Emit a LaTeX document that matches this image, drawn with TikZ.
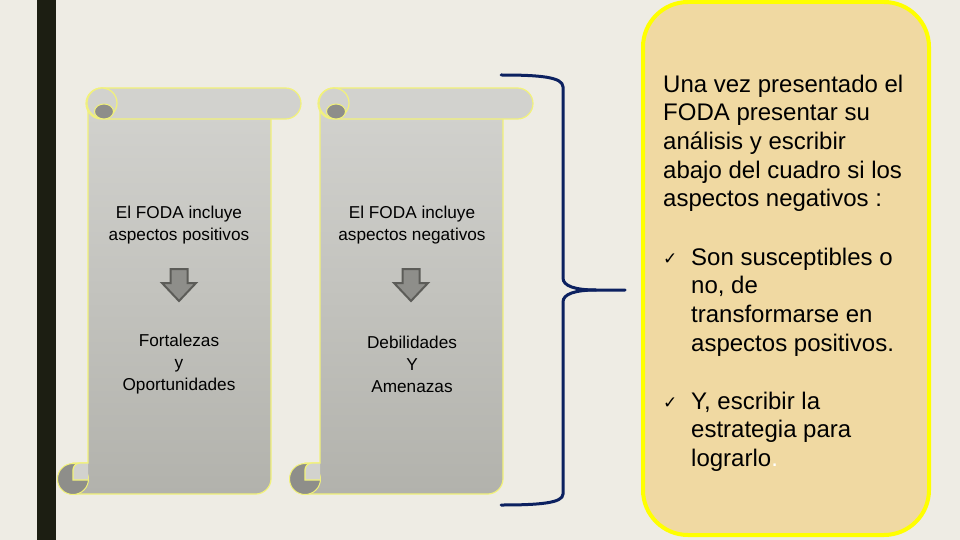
\documentclass[tikz,border=0pt]{standalone}
\usepackage{fontspec}
\setmainfont{Liberation Sans}
\newfontfamily\checkfont{DejaVu Sans}
\definecolor{slidebg}{HTML}{EEECE4}
\definecolor{slidebar}{HTML}{1C1E12}
\definecolor{rolltop}{HTML}{D2D2CE}
\definecolor{rollbottom}{HTML}{B2B2AC}
\definecolor{rolldark}{HTML}{8E8E8A}
\definecolor{rollrim}{HTML}{F2F27A}
\definecolor{arrowfill}{HTML}{8E8E8A}
\definecolor{arrowrim}{HTML}{5C5C58}
\definecolor{bracenavy}{HTML}{0C2160}
\definecolor{notefill}{HTML}{F0D9A2}
\definecolor{noterim}{HTML}{FFFF00}

\begin{document}
\begin{tikzpicture}[x=1pt, y=-1pt,
    rollbody/.style={draw=rollrim, line width=1.2pt,
                     top color=rolltop, bottom color=rollbottom},
    rollbar/.style={draw=rollrim, line width=1.2pt, fill=rolltop},
    rollcurl/.style={draw=rollrim, line width=1pt, fill=rolldark},
    downarrow/.style={draw=arrowrim, line width=2pt, fill=arrowfill,
                      line join=miter},
    rolltext/.style={align=center, inner sep=0pt,
                     font=\fontsize{17.2}{22}\selectfont},
    notetext/.style={anchor=north west, align=left, inner sep=0pt,
                     font=\fontsize{24}{28.7}\selectfont},
    checkmark/.style={anchor=base west, inner sep=0pt,
                      font=\checkfont\fontsize{17}{17}\selectfont},
    bracket/.style={draw=bracenavy, line width=3pt, line cap=round}
  ]
    % slide background and left bar
    \fill[slidebg] (0,0) rectangle (960,540);
    \useasboundingbox (0,0) rectangle (960,540);
    \fill[slidebar] (37,0) rectangle (56,540);

    % the two scrolls
    \foreach \dx in {0,232} {
      \begin{scope}[shift={(\dx,0)}]
        \draw[rollbody] (88,103) -- (88,463) -- (73,463) -- (73,494)
          -- (256,494) .. controls (264,494) and (271,487) .. (271,479)
          -- (271,103) -- cycle;
        \draw[rollcurl] (73,479) circle [radius=15.5];
        \draw[rollbar] (88,463) -- (80,463) arc [start angle=-90, end angle=-180, radius=7]
          -- (73,480) -- (88,480);
        \draw[rollbar, rounded corners=15.5] (86,88) rectangle (301,119);
        \draw[rollbar] (102,103) circle [radius=15];
        \draw[rollcurl] (104,111.5) ellipse [x radius=9.5, y radius=7.5];
        \draw[downarrow] (170.5,269) -- (187.5,269) -- (187.5,283) -- (196,283)
          -- (179,301) -- (162,283) -- (170.5,283) -- cycle;
      \end{scope}
    }

    \node[rolltext] (positivos)   at (179,225) {El FODA incluye\\aspectos positivos};
    \node[rolltext] (fortalezas)  at (179,364) {Fortalezas\\y\\Oportunidades};
    \node[rolltext] (negativos)   at (412,225) {El FODA incluye\\aspectos negativos};
    \node[rolltext] (debilidades) at (412,364) {Debilidades\\Y\\Amenazas};

    % bracket joining both scrolls
    \draw[bracket] (501,75) .. controls (540,75) and (563,77) .. (563,87)
      -- (563,278) .. controls (563,286) and (575,290) .. (596,290) -- (625,290);
    \draw[bracket] (596,290) .. controls (575,290) and (563,294) .. (563,302)
      -- (563,494) .. controls (563,503) and (540,505) .. (501,505);

    % note box
    \draw[draw=noterim, line width=4pt, fill=notefill, rounded corners=45]
      (643,2) rectangle (929,535);
    \node[notetext] (intro) at (663,74.5)
      {Una vez presentado el\\FODA presentar su\\análisis y escribir\\abajo del cuadro si los\\aspectos negativos :};
    \node[checkmark] (checkone) at (663,264) {✓};
    \node[notetext] (bulletone) at (691,247.5)
      {Son susceptibles o\\no, de\\transformarse en\\aspectos positivos.};
    \node[checkmark] (checktwo) at (663,408) {✓};
    \node[notetext] (bullettwo) at (691,391.5)
      {Y, escribir la\\estrategia para\\lograrlo\textcolor{white}{.}};
  \end{tikzpicture}
\end{document}
